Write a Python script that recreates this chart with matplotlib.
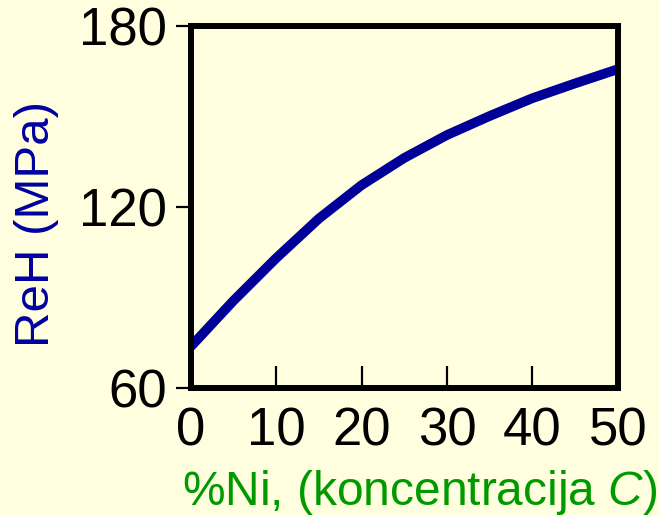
import matplotlib.pyplot as plt

plt.rcParams['font.family'] = ['Liberation Sans', 'DejaVu Sans']
plt.rcParams['mathtext.fontset'] = 'custom'
plt.rcParams['mathtext.rm'] = 'Liberation Sans'
plt.rcParams['mathtext.it'] = 'Liberation Sans:italic'

# data
ni_pct = [0, 5, 10, 15, 20, 25, 30, 35, 40, 45, 50]
reh_mpa = [73.8, 89.0, 103.1, 116.2, 127.3, 136.3, 143.9, 150.2, 156.1, 161.0, 165.7]
x_ticks = [0, 10, 20, 30, 40, 50]
y_ticks = [60, 120, 180]

bg = '#FFFFE0'
fig = plt.figure(figsize=(6.59, 5.16), dpi=100, facecolor=bg)
ax = fig.add_axes([0.2894, 0.2475, 0.648, 0.702], facecolor=bg)

ax.plot(ni_pct, reh_mpa, color='#000099', lw=7, solid_capstyle='butt')

ax.set_xlim(0, 50)
ax.set_ylim(60, 180)
ax.set_xticks(x_ticks)
ax.set_yticks(y_ticks)
ax.set_yticks([120], minor=True)

for s in ax.spines.values():
    s.set_linewidth(4.3)

ax.tick_params(axis='x', direction='in', length=16, width=1.6, pad=13,
               labelsize=38)
ax.tick_params(axis='y', which='major', direction='out', length=11, width=1.6,
               pad=6, labelsize=38)
ax.tick_params(axis='y', which='minor', direction='in', length=8, width=1.6,
               labelleft=False)

fig.text(37 / 659, 1 - 224 / 516, 'ReH (MPa)', rotation=90, ha='center',
         va='center', fontsize=35.5, color='#0000A0')
fig.text(657 / 659, 1 - 505 / 516, r'%Ni, (koncentracija $\mathit{C}$)',
         ha='right', va='baseline', fontsize=34.5, color='#009900')

fig.savefig('out.png', dpi=100, facecolor=bg)
